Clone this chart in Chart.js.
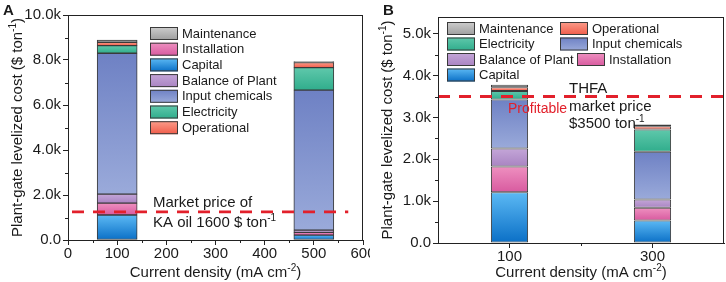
<!DOCTYPE html>
<html>
<head>
<meta charset="utf-8">
<script src="https://cdn.jsdelivr.net/npm/chart.js@4.4.1/dist/chart.umd.min.js"></script>
<style>
  html, body { margin: 0; padding: 0; background: #fff; }
  #wrap { position: relative; width: 726px; height: 282px; overflow: hidden; }
  .panel { position: absolute; top: 0; height: 282px; }
  #pa { left: 0; width: 370px; }
  #pb { left: 370px; width: 356px; }
</style>
</head>
<body>
<div id="wrap">
  <div class="panel" id="pa"><canvas id="ca" width="370" height="282"></canvas></div>
  <div class="panel" id="pb"><canvas id="cb" width="356" height="282"></canvas></div>
</div>
<script>
// stacked levelized cost, two panels. stack order bottom -> top.
const SERIES = ['Capital', 'Installation', 'Balance of Plant', 'Input chemicals', 'Electricity', 'Operational', 'Maintenance'];

// panel A: KA oil, x = current density (linear axis)
const densityA      = [100, 500];
const capitalA      = [1110, 220];
const installationA = [530, 120];
const bopA          = [400, 100];
const inputA        = [6260, 6220];
const electricityA  = [340, 1000];
const operationalA  = [150, 230];
const maintenanceA  = [100, 40];
const marketA       = 1250;      // level of the dashed line as drawn
const marketSpanA   = [0, 570];
const yTicksA  = [0, 2000, 4000, 6000, 8000, 10000];
const yLabelsA = ['0.0', '2.0k', '4.0k', '6.0k', '8.0k', '10.0k'];
const xTicksA  = [0, 100, 200, 300, 400, 500, 600];
const xLabelsA = ['0', '100', '200', '300', '400', '500', '600'];

// panel B: THFA, categorical x
const densityB      = ['100', '300'];
const capitalB      = [1210, 540];
const installationB = [620, 300];
const bopB          = [430, 200];
const inputB        = [1170, 1140];
const electricityB  = [200, 530];
const operationalB  = [90, 80];
const maintenanceB  = [60, 40];
const marketB       = 3500;
const yTicksB  = [0, 1000, 2000, 3000, 4000, 5000];
const yLabelsB = ['0.0', '1.0k', '2.0k', '3.0k', '4.0k', '5.0k'];

const legendA = ['Maintenance', 'Installation', 'Capital', 'Balance of Plant', 'Input chemicals', 'Electricity', 'Operational'];
const legendB = ['Maintenance', 'Operational', 'Electricity', 'Input chemicals', 'Balance of Plant', 'Installation', 'Capital'];

// [top, bottom] of the vertical gradient in each segment
const COLORS = {
  'Capital':          ['#5cb9f4', '#0a6fc6'],
  'Installation':     ['#ee90c0', '#d85a9f'],
  'Balance of Plant': ['#c4a6d8', '#a984c2'],
  'Input chemicals':  ['#6e81c4', '#9aaada'],
  'Electricity':      ['#5fc8ab', '#30ad8c'],
  'Operational':      ['#fb9c8a', '#f05c4a'],
  'Maintenance':      ['#cdcdcd', '#9e9e9e'],
};

const FONT = '"Liberation Sans", Arial, sans-serif';
const INK = '#1a1a1a';
const RED = '#e2202b';

const val = d => (d !== null && typeof d === 'object') ? d.y : d;

function segmentFill(name) {
  return c => {
    const chart = c.chart, ys = chart.scales && chart.scales.y;
    const [top, bot] = COLORS[name];
    if (c.type !== 'data' || !chart.chartArea || !ys) return top;
    const ds = chart.data.datasets;
    let base = 0;
    for (let j = 0; j < c.datasetIndex; j++) base += val(ds[j].data[c.dataIndex]);
    const v = val(ds[c.datasetIndex].data[c.dataIndex]);
    const y0 = ys.getPixelForValue(base), y1 = ys.getPixelForValue(base + v);
    if (!isFinite(y0) || !isFinite(y1) || y0 === y1) return top;
    const g = chart.ctx.createLinearGradient(0, y1, 0, y0);
    g.addColorStop(0, top);
    g.addColorStop(1, bot);
    return g;
  };
}

function boxFill(ctx, name, x, y, w, h) {
  const [top, bot] = COLORS[name];
  const g = ctx.createLinearGradient(0, y, 0, y + h);
  g.addColorStop(0, top);
  g.addColorStop(1, bot);
  ctx.fillStyle = g;
  ctx.fillRect(x, y, w, h);
  ctx.strokeStyle = '#3a3a3a';
  ctx.lineWidth = 1;
  ctx.strokeRect(x + 0.5, y + 0.5, w - 1, h - 1);
}

// text with superscripts: parts = [[text, isSup], ...]
function richText(ctx, parts, x, y, size, align, color) {
  ctx.save();
  ctx.fillStyle = color || INK;
  ctx.textBaseline = 'alphabetic';
  ctx.textAlign = 'left';
  const supSize = Math.round(size * 0.68);
  let w = 0;
  for (const [t, s] of parts) { ctx.font = `${s ? supSize : size}px ${FONT}`; w += ctx.measureText(t).width; }
  let cx = align === 'center' ? x - w / 2 : x;
  for (const [t, s] of parts) {
    ctx.font = `${s ? supSize : size}px ${FONT}`;
    ctx.fillText(t, cx, s ? y - size * 0.42 : y);
    cx += ctx.measureText(t).width;
  }
  ctx.restore();
}

function buildDatasets(x, cols) {
  return SERIES.map((name, k) => ({
    label: name,
    data: cols[k].map((v, i) => typeof x[i] === 'number' ? { x: x[i], y: v } : v),
    backgroundColor: segmentFill(name),
    borderColor: '#3a3a3a',
    borderWidth: 1,
    borderSkipped: false,
  }));
}

function tickFrom(values, labels) {
  return v => { const i = values.indexOf(v); return i < 0 ? '' : labels[i]; };
}

const gridOut = { drawOnChartArea: false, drawTicks: true, tickLength: 5, color: '#222', lineWidth: 1, offset: false };
const border = { color: '#222', width: 1 };

// frame, minor ticks, market line, legend, titles, notes
function panelPlugin(cfg) {
  return {
    id: 'panel' + cfg.letter,
    afterDatasetsDraw(chart) {
      const { ctx, chartArea: a, scales: { x, y } } = chart;
      ctx.save();
      ctx.strokeStyle = RED;
      ctx.lineWidth = 2.8;
      ctx.setLineDash([12, 9]);
      const py = y.getPixelForValue(cfg.market);
      const x0 = cfg.marketSpan ? x.getPixelForValue(cfg.marketSpan[0]) + 4 : a.left;
      const x1 = cfg.marketSpan ? x.getPixelForValue(cfg.marketSpan[1]) : a.right;
      ctx.beginPath(); ctx.moveTo(x0, py); ctx.lineTo(x1, py); ctx.stroke();
      ctx.restore();
    },
    afterDraw(chart) {
      const { ctx, chartArea: a, scales: { x, y } } = chart;
      ctx.save();
      ctx.strokeStyle = '#222';
      ctx.lineWidth = 1;
      ctx.strokeRect(Math.round(a.left) + 0.5, Math.round(a.top) + 0.5, Math.round(a.right - a.left) - 1, Math.round(a.bottom - a.top));
      // minor ticks
      ctx.beginPath();
      for (const v of cfg.yMinor) {
        const p = Math.round(y.getPixelForValue(v)) + 0.5;
        ctx.moveTo(a.left - 3, p); ctx.lineTo(a.left, p);
      }
      for (const v of cfg.xMinor) {
        const p = Math.round(cfg.xMinorPixel ? cfg.xMinorPixel(x, v) : x.getPixelForValue(v)) + 0.5;
        ctx.moveTo(p, a.bottom); ctx.lineTo(p, a.bottom + 3);
      }
      ctx.stroke();
      ctx.restore();

      // legend
      for (const it of cfg.legend) {
        ctx.save();
        boxFill(ctx, it.name, it.x, it.y, 28, 13);
        ctx.font = `13px ${FONT}`;
        ctx.fillStyle = INK;
        ctx.textBaseline = 'middle';
        ctx.textAlign = 'left';
        ctx.fillText(it.name, it.x + 32, it.y + 7);
        ctx.restore();
      }

      // axis titles
      const cx = (a.left + a.right) / 2, cy = (a.top + a.bottom) / 2;
      richText(ctx, [['Current density (mA cm', false], ['-2', true], [')', false]], cx, 277, 15, 'center');
      ctx.save();
      ctx.translate(cfg.yTitleX, cy);
      ctx.rotate(-Math.PI / 2);
      richText(ctx, [['Plant-gate levelized cost ($ ton', false], ['-1', true], [')', false]], 0, 0, 15, 'center');
      ctx.restore();

      // panel letter
      ctx.save();
      ctx.font = `bold 15px ${FONT}`;
      ctx.fillStyle = INK;
      ctx.textAlign = 'left';
      ctx.fillText(cfg.letter, cfg.letterX, 15);
      ctx.restore();

      for (const n of cfg.notes) richText(ctx, n.parts, n.x, n.y, n.size, 'left', n.color);
    },
  };
}

function makeChart(canvas, o) {
  // eslint-disable-next-line no-undef
  return new Chart(canvas.getContext('2d'), {
    type: 'bar',
    data: o.labels ? { labels: o.labels, datasets: o.datasets } : { datasets: o.datasets },
    options: {
      responsive: false, animation: false, devicePixelRatio: 1,
      layout: { padding: o.padding },
      plugins: { legend: { display: false }, tooltip: { enabled: false } },
      datasets: { bar: o.bar },
      scales: { x: o.x, y: o.y },
    },
    plugins: [panelPlugin(o.panel)],
  });
}

const tickFont = { family: FONT, size: 15 };
const zeroPad = s => { s.paddingLeft = 0; s.paddingRight = 0; s.paddingTop = 0; s.paddingBottom = 0; };

makeChart(document.getElementById('ca'), {
  datasets: buildDatasets(densityA, [capitalA, installationA, bopA, inputA, electricityA, operationalA, maintenanceA]),
  padding: { left: 0, top: 15, right: 7, bottom: 0 },
  bar: { barThickness: 40 },
  x: {
    type: 'linear', min: 0, max: 600, stacked: true, offset: false,
    grid: gridOut, border,
    afterBuildTicks: s => { s.ticks = xTicksA.map(v => ({ value: v })); },
    ticks: { callback: tickFrom(xTicksA, xLabelsA), font: tickFont, color: INK, padding: 0, maxRotation: 0, autoSkip: false, align: 'center' },
    afterFit: s => { s.height = 42; zeroPad(s); },
  },
  y: {
    stacked: true, min: 0, max: 10000,
    grid: gridOut, border,
    afterBuildTicks: s => { s.ticks = yTicksA.map(v => ({ value: v })); },
    ticks: { callback: tickFrom(yTicksA, yLabelsA), font: tickFont, color: INK, padding: 2, autoSkip: false },
    afterFit: s => { s.width = 68; zeroPad(s); },
  },
  panel: {
    letter: 'A', letterX: 3, yTitleX: 22,
    market: marketA, marketSpan: marketSpanA,
    yMinor: [1000, 3000, 5000, 7000, 9000],
    xMinor: [50, 150, 250, 350, 450, 550],
    legend: legendA.map((name, i) => ({ name, x: 150, y: 27 + i * 15.7 })),
    notes: [
      { parts: [['Market price of', false]], x: 153, y: 207, size: 15 },
      { parts: [['KA oil 1600 $ ton', false], ['-1', true]], x: 153, y: 227, size: 15 },
    ],
  },
});

makeChart(document.getElementById('cb'), {
  labels: densityB,
  datasets: buildDatasets(densityB, [capitalB, installationB, bopB, inputB, electricityB, operationalB, maintenanceB]),
  padding: { left: 0, top: 17, right: 2, bottom: 0 },
  bar: { categoryPercentage: 1, barPercentage: 0.26 },
  x: {
    type: 'category', stacked: true, offset: true,
    grid: gridOut, border,
    ticks: { font: tickFont, color: INK, padding: 0, maxRotation: 0 },
    afterFit: s => { s.height = 39; zeroPad(s); },
  },
  y: {
    stacked: true, min: 0, max: 5400,
    grid: gridOut, border,
    afterBuildTicks: s => { s.ticks = yTicksB.map(v => ({ value: v })); },
    ticks: { callback: tickFrom(yTicksB, yLabelsB), font: tickFont, color: INK, padding: 2, autoSkip: false },
    afterFit: s => { s.width = 68; zeroPad(s); },
  },
  panel: {
    letter: 'B', letterX: 13, yTitleX: 22,
    market: marketB, marketSpan: null,
    yMinor: [500, 1500, 2500, 3500, 4500],
    xMinor: [0],
    xMinorPixel: (x) => (x.getPixelForValue(0) + x.getPixelForValue(1)) / 2,
    legend: [
      { name: legendB[0], x: 77, y: 22 },  { name: legendB[1], x: 190, y: 22 },
      { name: legendB[2], x: 77, y: 37.5 }, { name: legendB[3], x: 190, y: 37.5 },
      { name: legendB[4], x: 77, y: 53 },  { name: legendB[5], x: 207, y: 53 },
      { name: legendB[6], x: 77, y: 68.5 },
    ],
    notes: [
      { parts: [['THFA', false]], x: 199, y: 93, size: 15 },
      { parts: [['market price', false]], x: 199, y: 111, size: 15 },
      { parts: [['$3500 ton', false], ['-1', true]], x: 199, y: 128, size: 15 },
      { parts: [['Profitable', false]], x: 138, y: 113, size: 14, color: RED },
    ],
  },
});
</script>
</body>
</html>
